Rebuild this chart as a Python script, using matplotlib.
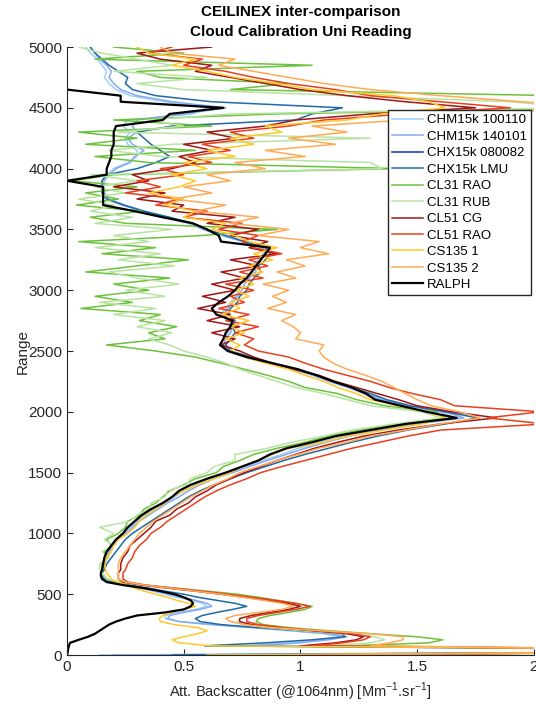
import numpy as np
import matplotlib.pyplot as plt

plt.rcParams['font.family'] = ['Liberation Sans', 'DejaVu Sans']
plt.rcParams['mathtext.fontset'] = 'custom'
plt.rcParams['mathtext.rm'] = 'Liberation Sans'

# range grid: 25 m near the ground, 50 m above
range_m = np.r_[0:701:25, 750:5001:50]

names = ['CHM15k 100110', 'CHM15k 140101', 'CHX15k 080082', 'CHX15k LMU',
         'CL31 RAO', 'CL31 RUB', 'CL51 CG', 'CL51 RAO', 'CS135 1', 'CS135 2', 'RALPH']
colors = ['#9dcff7', '#86a9f2', '#0a37b0', '#1f6aa6', '#6cc23c', '#b9e3a2',
          '#a11616', '#e8401e', '#ffc82a', '#ffaa55', '#000000']

chm_100110 = [0.14, 2.5, 2.2, 0.75, 0.95, 1.1, 1.17, 1.1, 0.95, 0.8, 0.62, 0.48, 0.42, 0.42, 0.47,
              0.55, 0.6, 0.58, 0.53, 0.47, 0.42, 0.37, 0.31, 0.25, 0.19, 0.16, 0.15, 0.15, 0.15] + [
    0.16, 0.17, 0.18, 0.19, 0.21, 0.24, 0.27, 0.3, 0.33, 0.37,
    0.42, 0.46, 0.5, 0.55, 0.61, 0.69, 0.76, 0.84, 0.92, 0.99,
    1.08, 1.18, 1.3, 1.46, 1.66, 1.6, 1.45, 1.34, 1.27, 1.2,
    1.12, 1.05, 0.96, 0.86, 0.76, 0.68, 0.66, 0.67, 0.69, 0.7,
    0.69, 0.66, 0.68, 0.7, 0.72, 0.74, 0.74, 0.77, 0.8, 0.79,
    0.82, 0.84, 0.83, 0.75, 0.66, 0.58, 0.52, 0.42, 0.32, 0.24,
    0.17, 0.15, 0.15, 0.15, 0.17, 0.2, 0.26, 0.3, 0.3, 0.26,
    0.25, 0.27, 0.24, 0.26, 0.54, 0.6, 0.42, 0.27, 0.21, 0.18,
    0.16, 0.17, 0.15, 0.13, 0.1, 0.08]

chm_140101 = [0.2, 2.5, 2.3, 0.8, 1.0, 1.12, 1.2, 1.12, 0.97, 0.8, 0.62, 0.48, 0.43, 0.44, 0.5,
              0.57, 0.62, 0.6, 0.55, 0.49, 0.44, 0.38, 0.32, 0.26, 0.2, 0.16, 0.15, 0.15, 0.155] + [
    0.16, 0.17, 0.18, 0.2, 0.22, 0.25, 0.28, 0.31, 0.35, 0.39,
    0.43, 0.48, 0.52, 0.57, 0.63, 0.71, 0.78, 0.86, 0.94, 1.02,
    1.11, 1.21, 1.34, 1.5, 1.7, 1.62, 1.46, 1.35, 1.28, 1.21,
    1.13, 1.06, 0.97, 0.87, 0.77, 0.69, 0.67, 0.68, 0.7, 0.71,
    0.7, 0.67, 0.69, 0.71, 0.73, 0.75, 0.76, 0.78, 0.81, 0.8,
    0.83, 0.85, 0.84, 0.76, 0.67, 0.59, 0.53, 0.43, 0.33, 0.25,
    0.18, 0.16, 0.15, 0.16, 0.18, 0.21, 0.27, 0.29, 0.33, 0.28,
    0.26, 0.3, 0.28, 0.3, 0.5, 0.68, 0.45, 0.3, 0.23, 0.2,
    0.18, 0.19, 0.17, 0.14, 0.12, 0.1]

# no usable profile from this one, only in the legend
chx_080082 = [np.nan] * len(range_m)

chx_lmu = [0.45, 2.6, 2.5, 0.59, 0.85, 1.05, 1.19, 1.18, 1.0, 0.82, 0.66, 0.57, 0.55, 0.58, 0.64,
           0.71, 0.77, 0.72, 0.64, 0.56, 0.5, 0.42, 0.35, 0.27, 0.2, 0.16, 0.15, 0.15, 0.16] + [
    0.17, 0.19, 0.21, 0.23, 0.25, 0.28, 0.32, 0.36, 0.4, 0.44,
    0.48, 0.52, 0.57, 0.63, 0.7, 0.77, 0.85, 0.93, 1.02, 1.12,
    1.22, 1.33, 1.46, 1.62, 1.76, 1.62, 1.47, 1.37, 1.3, 1.22,
    1.14, 1.07, 0.98, 0.88, 0.79, 0.7, 0.68, 0.7, 0.72, 0.71,
    0.72, 0.69, 0.7, 0.73, 0.74, 0.77, 0.78, 0.8, 0.83, 0.82,
    0.85, 0.87, 0.85, 0.76, 0.68, 0.6, 0.54, 0.44, 0.33, 0.24,
    0.17, 0.15, 0.15, 0.15, 0.17, 0.3, 0.38, 0.44, 0.4, 0.36,
    0.33, 0.3, 0.45, 0.98, 1.05, 1.18, 0.62, 0.38, 0.28, 0.25,
    0.26, 0.22, 0.18, 0.15, 0.12, 0.1]

cl31_rao = [0.91, 2.6, 2.4, 1.2, 1.55, 1.61, 1.5, 1.3, 1.12, 0.95, 0.84, 0.81, 0.82, 0.87, 0.95,
            1.02, 1.05, 0.98, 0.9, 0.82, 0.73, 0.6, 0.46, 0.33, 0.22, 0.17, 0.16, 0.15, 0.15] + [
    0.15, 0.17, 0.16, 0.19, 0.17, 0.22, 0.25, 0.26, 0.31, 0.33,
    0.38, 0.41, 0.44, 0.5, 0.55, 0.64, 0.67, 0.74, 0.8, 0.9,
    1.02, 1.12, 1.26, 1.42, 1.62, 1.58, 1.36, 1.24, 1.16, 1.02,
    0.95, 0.86, 0.76, 0.66, 0.55, 0.38, 0.17, 0.42, 0.35, 0.47,
    0.31, 0.4, 0.06, 0.28, 0.12, 0.35, 0.2, 0.44, 0.08, 0.3,
    0.52, 0.15, 0.38, 0.05, 0.58, 0.9, 0.25, 0.1, 0.32, 0.04,
    0.22, 0.08, 0.3, 0.02, 0.2, 1.42, 0.35, 0.12, 0.55, 0.08,
    0.3, 0.05, 0.62, 0.2, 0.9, 2.3, 2.2, 2.1, 0.7, 0.95,
    0.4, 0.3, 1.05, 0.12, 0.5, 0.2]

cl31_rub = [1.49, 2.6, 2.5, 1.1, 1.3, 1.36, 1.32, 1.18, 1.0, 0.86, 0.76, 0.73, 0.74, 0.79, 0.86,
            0.93, 0.97, 0.93, 0.85, 0.77, 0.68, 0.57, 0.44, 0.32, 0.22, 0.17, 0.16, 0.15, 0.14] + [
    0.14, 0.18, 0.15, 0.2, 0.16, 0.2, 0.14, 0.27, 0.3, 0.35,
    0.36, 0.42, 0.43, 0.51, 0.53, 0.6, 0.63, 0.72, 0.72, 0.86,
    0.96, 1.1, 1.22, 1.4, 1.6, 1.52, 1.3, 1.2, 1.1, 0.98,
    0.9, 0.82, 0.74, 0.68, 0.6, 0.5, 0.44, 0.35, 0.45, 0.3,
    0.42, 0.2, 0.38, 0.14, 0.42, 0.25, 0.48, 0.3, 0.18, 0.46,
    0.22, 0.4, 0.12, 0.35, 0.2, 0.45, 0.12, 0.28, 0.1, 0.2,
    0.05, 0.25, 0.12, 0.3, 0.1, 1.35, 1.3, 0.4, 0.18, 0.45,
    1.3, 0.22, 0.5, 0.35, 0.7, 2.2, 1.9, 1.2, 0.5, 0.3,
    0.6, 0.2, 0.45, 0.3, 0.15, 0.05]

cl51_cg = [1.04, 2.6, 2.4, 1.0, 1.15, 1.24, 1.27, 1.2, 1.05, 0.9, 0.79, 0.74, 0.74, 0.79, 0.87,
           0.95, 1.0, 0.95, 0.86, 0.76, 0.66, 0.55, 0.43, 0.32, 0.24, 0.22, 0.22, 0.22, 0.23] + [
    0.23, 0.24, 0.26, 0.27, 0.3, 0.33, 0.36, 0.38, 0.44, 0.47,
    0.52, 0.55, 0.6, 0.64, 0.7, 0.76, 0.83, 0.9, 0.98, 1.06,
    1.16, 1.27, 1.42, 1.6, 1.84, 1.65, 1.5, 1.42, 1.33, 1.24,
    1.15, 1.08, 0.97, 0.88, 0.8, 0.74, 0.66, 0.72, 0.62, 0.74,
    0.6, 0.7, 0.56, 0.68, 0.58, 0.72, 0.62, 0.76, 0.66, 0.82,
    0.7, 0.9, 0.78, 0.86, 0.7, 0.82, 0.6, 0.72, 0.45, 0.5,
    0.3, 0.42, 0.2, 0.35, 0.28, 0.45, 0.55, 0.48, 0.62, 0.5,
    0.72, 0.6, 0.85, 0.98, 1.3, 1.75, 1.45, 1.2, 1.0, 0.85,
    0.7, 0.55, 0.62, 0.4, 0.3, 0.62]

cl51_rao = [1.14, 2.6, 2.5, 1.05, 1.18, 1.27, 1.3, 1.22, 1.07, 0.93, 0.82, 0.77, 0.77, 0.82, 0.9,
            0.98, 1.04, 0.98, 0.89, 0.79, 0.69, 0.58, 0.46, 0.34, 0.26, 0.24, 0.24, 0.24, 0.25] + [
    0.26, 0.28, 0.29, 0.31, 0.34, 0.36, 0.4, 0.43, 0.47, 0.51,
    0.55, 0.59, 0.64, 0.7, 0.77, 0.83, 0.92, 1.02, 1.12, 1.22,
    1.34, 1.46, 1.6, 2.05, 1.8, 2.03, 1.66, 1.6, 1.48, 1.38,
    1.3, 1.2, 1.1, 1.02, 0.95, 0.82, 0.76, 0.8, 0.72, 0.82,
    0.68, 0.78, 0.65, 0.76, 0.7, 0.8, 0.68, 0.84, 0.74, 0.86,
    0.78, 0.92, 0.8, 0.75, 0.82, 0.65, 0.75, 0.5, 0.6, 0.38,
    0.48, 0.25, 0.4, 0.3, 0.5, 0.4, 0.62, 0.52, 0.7, 0.58,
    0.8, 0.7, 0.95, 1.1, 1.45, 1.9, 1.6, 1.3, 1.15, 0.95,
    0.8, 0.68, 0.5, 0.58, 0.35, 0.45]

cs135_1 = [0.6, 2.6, 2.6, 0.62, 0.48, 0.45, 0.5, 0.56, 0.6, 0.56, 0.46, 0.4, 0.395, 0.41, 0.45,
           0.5, 0.55, 0.52, 0.47, 0.43, 0.38, 0.33, 0.29, 0.255, 0.21, 0.19, 0.18, 0.17, 0.165] + [
    0.16, 0.17, 0.19, 0.2, 0.22, 0.26, 0.29, 0.31, 0.34, 0.38,
    0.42, 0.45, 0.5, 0.56, 0.63, 0.7, 0.75, 0.82, 0.88, 0.95,
    1.1, 1.2, 1.36, 1.52, 1.62, 1.55, 1.42, 1.3, 1.24, 1.16,
    1.1, 1.02, 0.95, 0.85, 0.76, 0.7, 0.74, 0.68, 0.76, 0.7,
    0.78, 0.66, 0.74, 0.7, 0.78, 0.72, 0.8, 0.74, 0.84, 0.78,
    0.88, 0.8, 0.9, 0.78, 0.72, 0.62, 0.68, 0.5, 0.55, 0.42,
    0.5, 0.35, 0.48, 0.55, 0.45, 0.6, 0.5, 0.72, 0.6, 0.8,
    0.7, 0.92, 0.85, 1.2, 1.35, 1.62, 1.55, 1.4, 1.05, 0.9,
    0.72, 0.6, 0.45, 0.55, 0.35, 0.3]

cs135_2 = [1.0, 2.6, 2.5, 1.3, 1.38, 1.44, 1.44, 1.3, 1.08, 0.88, 0.76, 0.7, 0.68, 0.72, 0.82,
           0.92, 0.97, 0.92, 0.84, 0.75, 0.66, 0.55, 0.44, 0.33, 0.25, 0.22, 0.22, 0.22, 0.22] + [
    0.22, 0.23, 0.25, 0.27, 0.29, 0.31, 0.34, 0.37, 0.41, 0.45,
    0.49, 0.53, 0.58, 0.63, 0.69, 0.74, 0.82, 0.9, 0.99, 1.08,
    1.2, 1.3, 1.45, 1.6, 1.77, 1.68, 1.56, 1.5, 1.45, 1.4,
    1.35, 1.28, 1.2, 1.14, 1.1, 1.08, 1.1, 0.98, 1.0, 0.97,
    0.92, 0.98, 0.86, 0.94, 0.88, 0.95, 0.84, 0.98, 0.9, 1.02,
    0.94, 1.12, 1.0, 1.08, 0.82, 0.95, 0.7, 0.82, 0.55, 0.68,
    0.45, 0.62, 0.5, 0.7, 0.6, 0.85, 0.72, 1.02, 0.85, 1.15,
    0.95, 1.2, 1.05, 1.45, 1.7, 2.3, 1.95, 1.6, 1.3, 1.1,
    0.95, 0.8, 0.65, 0.72, 0.45, 0.4]

ralph = [0.0, 0.003, 0.005, 0.008, 0.013, 0.05, 0.09, 0.12, 0.14, 0.16, 0.18, 0.21, 0.25, 0.3, 0.42,
         0.5, 0.53, 0.54, 0.53, 0.5, 0.46, 0.4, 0.33, 0.24, 0.17, 0.15, 0.145, 0.145, 0.15] + [
    0.155, 0.16, 0.17, 0.19, 0.21, 0.24, 0.26, 0.29, 0.32, 0.36,
    0.41, 0.45, 0.48, 0.53, 0.6, 0.68, 0.75, 0.82, 0.87, 0.94,
    1.05, 1.15, 1.3, 1.45, 1.67, 1.54, 1.43, 1.32, 1.28, 1.22,
    1.14, 1.07, 0.99, 0.88, 0.77, 0.69, 0.655, 0.67, 0.68, 0.7,
    0.71, 0.64, 0.62, 0.65, 0.69, 0.72, 0.74, 0.77, 0.79, 0.81,
    0.83, 0.85, 0.87, 0.66, 0.65, 0.6, 0.54, 0.41, 0.29, 0.155,
    0.155, 0.155, 0.155, 0.0, 0.17, 0.17, 0.18, 0.19, 0.19, 0.2,
    0.2, 0.2, 0.21, 0.41, 0.44, 0.67, 0.23, 0.23, 0.0, np.nan,
    np.nan, np.nan, np.nan, np.nan, np.nan, np.nan]

profiles = [chm_100110, chm_140101, chx_080082, chx_lmu, cl31_rao, cl31_rub,
            cl51_cg, cl51_rao, cs135_1, cs135_2, ralph]

fig = plt.figure(figsize=(5.36, 7.04), dpi=100)
ax = fig.add_axes([0.125, 0.0696, 0.871, 0.8636])

for name, col, vals in zip(names, colors, profiles):
    lw = 1.6 if name == 'RALPH' else 1.1
    ax.plot(vals, range_m, color=col, lw=lw, label=name)

ax.set_xlim(0, 2)
ax.set_ylim(0, 5000)
ax.set_xticks([0, 0.5, 1, 1.5, 2])
ax.set_xticklabels(['0', '0.5', '1', '1.5', '2'])
ax.set_yticks(np.arange(0, 5001, 500))
ax.tick_params(direction='in', length=4, labelsize=11, colors='#262626')
for s in ['top', 'right']:
    ax.spines[s].set_visible(False)
for s in ['left', 'bottom']:
    ax.spines[s].set_color('#262626')

ax.set_title('CEILINEX inter-comparison\nCloud Calibration Uni Reading',
             fontsize=11, fontweight='bold', pad=8, linespacing=1.5)
ax.set_ylabel('Range', fontsize=11, color='#262626')
ax.yaxis.set_label_coords(-0.08, 0.5)
ax.set_xlabel('Att. Backscatter (@1064nm) [Mm$^{-1}$.sr$^{-1}$]', fontsize=10.5,
              color='#262626', labelpad=5)

leg = ax.legend(loc='upper left', bbox_to_anchor=(0.687, 0.896), borderaxespad=0,
                fontsize=9.5, fancybox=False, framealpha=1, edgecolor='#262626',
                labelspacing=0.32, handlelength=2.4, handletextpad=0.3, borderpad=0.3)
leg.get_frame().set_linewidth(1.0)

fig.savefig('out.png', dpi=100)
